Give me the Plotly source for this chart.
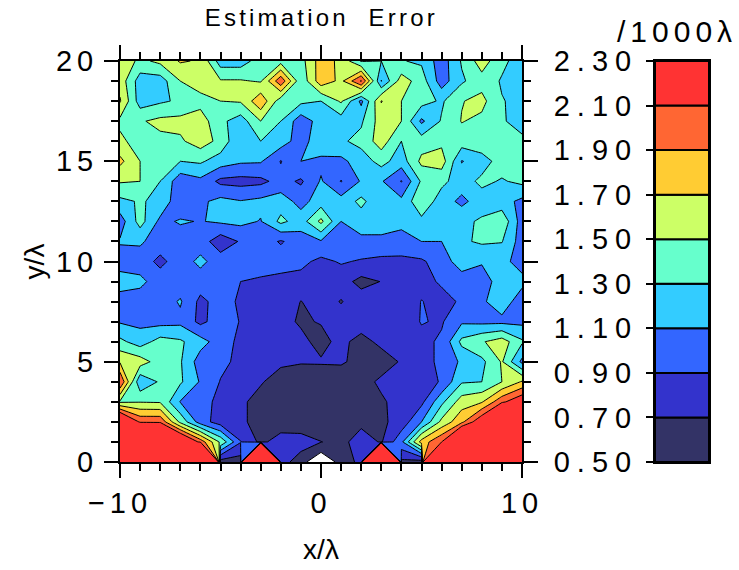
import plotly.graph_objects as go

x_values = list(range(-10, 11))
y_values = list(range(0, 21))
error = [
 [6,6.5,6,5,15,.6,.6,30,.8,.58,.31,.58,.76,30,.65,.6,20,15,12,10,8],
 [3.5,4,3.5,2.6,2.03,1.46,.91,.65,.8,.81,.705,.64,.8,.68,1.05,1.78,2.1,3,3.8,4.5,5],
 [2.67,2.06,2.06,1.45,1.0,.8,.72,.66,.58,.55,.55,.55,.65,.66,.78,1.1,1.55,1.85,2.3,3.5,4.5],
 [1.47,1.49,1.48,1.09,1.0,.83,.72,.66,.6,.55,.55,.55,.55,.67,.78,.85,1.25,1.6,1.68,2.05,2.3],
 [2.1,1.13,1.33,1.33,1.08,.89,.8,.71,.65,.62,.6,.6,.62,.74,.75,.8,.92,1.28,1.3,1.5,1.72],
 [1.68,1.6,1.4,1.32,1.0,.95,.85,.8,.72,.71,.715,.72,.65,.6,.72,.85,.93,1.14,1.25,1.52,1.05],
 [1.35,1.2,1.38,1.33,1.18,1.0,.85,.8,.78,.74,.65,.75,.63,.75,.8,.85,.93,1.35,1.48,1.6,1.33],
 [1.08,1.05,1.03,1.05,.85,1.0,.89,.82,.75,.68,.71,.78,.8,.8,.8,.91,.88,1.07,1.05,1.05,1.05],
 [1.0,1.0,1.0,1.12,.85,.98,.87,.85,.82,.695,.78,.69,.8,.8,.8,.905,.85,.92,1.07,1.2,1.0],
 [1.2,1.15,1.0,1.0,1.0,1.0,.9,.87,.83,.83,.8,.78,.64,.705,.8,.85,.92,1.0,1.0,1.2,1.15],
 [1.0,1.0,.85,1.0,1.15,1.0,1.0,1.0,1.0,.95,.85,.92,.88,.85,.85,.87,1.0,1.2,1.12,1.15,1.03],
 [1.12,1.13,1.0,1.0,1.0,.78,.92,1.0,.88,1.0,1.08,1.0,1.05,1.05,1.03,1.1,1.1,1.27,1.33,1.31,1.0],
 [1.0,1.38,1.05,1.12,1.09,1.13,1.15,1.09,1.35,1.2,1.55,1.1,1.2,1.2,1.15,1.25,1.25,1.25,1.33,1.45,1.0],
 [1.25,1.32,1.25,.95,1.06,1.16,1.11,1.15,1.2,1.03,1.2,1.18,1.35,1.15,1.15,1.45,1.2,1.05,1.2,1.18,1.05],
 [1.52,1.5,1.3,.97,1.05,.85,.83,.85,.97,.87,1.12,.89,1.12,1.12,.89,1.33,1.35,1.2,1.35,1.28,1.35],
 [1.75,1.5,1.4,1.3,1.33,1.2,1.13,1.12,.89,1.1,1.05,1.05,1.2,1.37,1.2,1.55,1.6,1.09,1.2,1.4,1.45],
 [1.55,1.4,1.45,1.47,1.6,1.44,1.11,1.3,1.2,1.0,1.25,1.27,1.36,1.6,1.3,1.4,1.45,1.4,1.45,1.45,1.4],
 [1.45,1.48,1.55,1.56,1.6,1.35,1.2,1.5,1.3,.98,1.19,1.2,1.27,1.6,1.5,1.06,1.32,1.51,1.45,1.35,1.12],
 [1.72,1.2,1.27,1.33,1.43,1.5,1.52,1.85,1.38,1.35,1.3,1.53,1.05,1.71,1.5,1.38,1.27,1.49,1.56,1.31,1.25],
 [1.62,1.2,1.2,1.5,1.6,1.52,1.52,1.48,2.05,1.35,1.82,1.65,2.12,1.09,1.6,1.4,1.0,1.27,1.42,1.28,1.2],
 [1.65,1.45,1.55,1.72,1.68,1.2,1.2,1.4,1.42,1.42,1.8,1.65,1.28,1.3,1.31,1.27,.99,1.32,1.6,1.35,1.2],
]
band_floor = [0.5, 0.7, 0.9, 1.1, 1.3, 1.5, 1.7, 1.9, 2.1]
band_size = [0.2] * 9
band_colors = ["#333366", "#3333CC", "#3366FF", "#33CCFF", "#66FFCC",
               "#CCFF66", "#FFCC33", "#FF6633", "#FF3333"]
bar_ticks = [0.5, 0.7, 0.9, 1.1, 1.3, 1.5, 1.7, 1.9, 2.1, 2.3]

W, H = 739, 570
FONT = "Liberation Sans"

# plotly maps each filled level onto colorscale position level_index/10
scale = [[0.0, "#FFFFFF"], [0.1, "#FFFFFF"]]
for i, c in enumerate(band_colors):
    scale.append([(i + 2) / 10, c])

fig = go.Figure()
fig.add_trace(go.Contour(
    x=x_values, y=y_values, z=error,
    colorscale=scale, showscale=False,
    autocontour=False,
    contours=dict(start=0.3, end=2.1, size=0.2, coloring="fill", showlines=True),
    line=dict(color="black", width=1, smoothing=0),
    connectgaps=False, hoverinfo="skip",
))
fig.add_trace(go.Bar(
    x=[0] * 9, y=band_size, base=band_floor, width=1,
    marker=dict(color=band_colors, line=dict(color="black", width=2)),
    xaxis="x2", yaxis="y2", showlegend=False, hoverinfo="skip",
))

ptop, pbot = 61, 462
ydom = [1 - pbot / H, 1 - ptop / H]
tick_font = dict(family=FONT, size=29, color="black")
title_font = dict(family=FONT, size=28, color="black")

fig.update_layout(
    width=W, height=H, margin=dict(l=0, r=0, t=0, b=0, autoexpand=False),
    paper_bgcolor="white", plot_bgcolor="white", showlegend=False, barmode="overlay",
    xaxis=dict(domain=[120 / W, 522 / W], range=[-10, 10], tick0=-10, dtick=10,
               ticks="outside", ticklen=14, tickwidth=2, tickcolor="black",
               showline=True, linewidth=2, linecolor="black", mirror="allticks",
               showgrid=False, zeroline=False, tickfont=tick_font,
               minor=dict(dtick=1, ticks="outside", ticklen=7, tickwidth=2, tickcolor="black", showgrid=False),
               title=dict(text="x/λ", font=title_font, standoff=22)),
    yaxis=dict(domain=ydom, range=[0, 20], tick0=0, dtick=5,
               ticks="outside", ticklen=14, tickwidth=2, tickcolor="black",
               showline=True, linewidth=2, linecolor="black", mirror="allticks",
               showgrid=False, zeroline=False, tickfont=tick_font,
               minor=dict(dtick=1, ticks="outside", ticklen=7, tickwidth=2, tickcolor="black", showgrid=False),
               title=dict(text="y/λ", font=title_font, standoff=13)),
    xaxis2=dict(domain=[655 / W, 709 / W], range=[-0.5, 0.5], anchor="y2",
                showticklabels=False, ticks="", showgrid=False, zeroline=False,
                showline=True, linewidth=2, linecolor="black", mirror=True),
    yaxis2=dict(domain=ydom, range=[0.5, 2.3], anchor="x2", tickvals=bar_ticks,
                tickformat=".2f", ticks="outside", ticklen=7, tickwidth=2, tickcolor="black",
                showgrid=False, zeroline=False, tickfont=tick_font,
                showline=True, linewidth=2, linecolor="black", mirror=True,
                ticklabelstandoff=2),
    annotations=[
        dict(text="Estimation  Error", xref="paper", yref="paper", x=321 / W, y=1 - 18 / H,
             showarrow=False, xanchor="center", yanchor="middle",
             font=dict(family=FONT, size=24, color="black")),
        dict(text="/1000λ", xref="paper", yref="paper", x=724 / W, y=1 - 32 / H,
             showarrow=False, xanchor="right", yanchor="middle",
             font=dict(family=FONT, size=30, color="black")),
    ],
)

css = """
var s=document.createElement('style');
s.textContent='.xtick text,.ytick text{letter-spacing:5px}.y2tick text{letter-spacing:7px}'
 +'.annotation[data-index="0"] text{letter-spacing:3.2px}.annotation[data-index="1"] text{letter-spacing:5px}';
document.head.appendChild(s);
document.body.style.margin='0';
"""
fig.write_html("out.html", post_script=css, config={"displayModeBar": False})
